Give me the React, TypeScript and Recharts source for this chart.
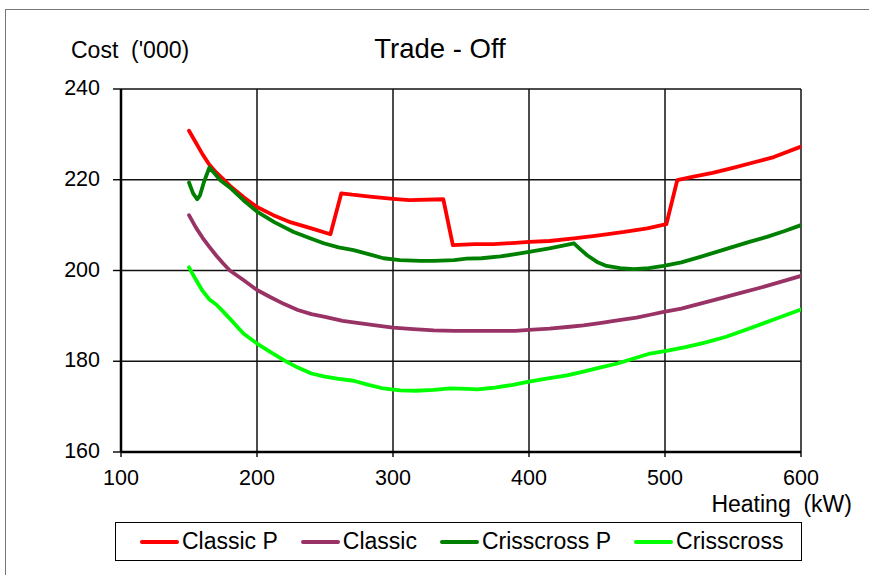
import { LineChart, Line, XAxis, YAxis, CartesianGrid } from "recharts";

// heating (kW) and cost ('000), one pair of arrays per series
const classicPHeating = [150, 155, 160, 165, 170, 175, 180, 190, 200, 212, 225, 240, 254, 262, 270, 283, 300, 312, 337, 344, 360, 374, 390, 400, 415, 433, 450, 470, 487, 501, 509, 521, 535, 550, 565, 580, 600];
const classicPCost = [230.8, 228.2, 225.6, 223.3, 221.6, 220.2, 218.7, 216.2, 214.0, 212.2, 210.6, 209.3, 208.0, 217.0, 216.7, 216.3, 215.8, 215.5, 215.7, 205.6, 205.8, 205.8, 206.1, 206.3, 206.5, 207.1, 207.7, 208.5, 209.3, 210.2, 219.9, 220.7, 221.5, 222.6, 223.8, 225.0, 227.3];

const classicHeating = [150, 155, 160, 165, 170, 175, 180, 190, 200, 210, 220, 230, 240, 250, 263, 275, 290, 300, 315, 330, 345, 360, 375, 390, 400, 415, 430, 440, 452, 465, 479, 490, 499, 512, 526, 540, 555, 570, 585, 600];
const classicCost = [212.2, 209.5, 207.2, 205.2, 203.3, 201.6, 200.0, 197.9, 195.7, 194.1, 192.6, 191.3, 190.4, 189.8, 188.9, 188.4, 187.8, 187.4, 187.1, 186.8, 186.7, 186.7, 186.7, 186.7, 186.9, 187.2, 187.6, 187.9, 188.4, 189.0, 189.6, 190.3, 190.9, 191.6, 192.7, 193.8, 195.0, 196.2, 197.5, 198.8];

const crissPHeating = [150, 153, 156, 158, 161, 165, 169, 173, 180, 190, 200, 213, 227, 240, 249, 260, 271, 282, 293, 305, 320, 330, 345, 354, 365, 379, 390, 400, 415, 425, 433, 438, 443, 450, 457, 467, 477, 488, 499, 512, 526, 538, 550, 562, 575, 588, 600];
const crissPCost = [219.4, 217.0, 215.7, 216.5, 219.5, 222.7, 221.3, 219.9, 218.3, 215.5, 213.0, 210.6, 208.5, 207.0, 206.0, 205.1, 204.5, 203.6, 202.7, 202.3, 202.1, 202.1, 202.3, 202.6, 202.7, 203.1, 203.6, 204.1, 204.9, 205.5, 206.0, 204.6, 203.3, 201.9, 201.0, 200.5, 200.3, 200.5, 201.0, 201.8, 203.0, 204.1, 205.2, 206.3, 207.4, 208.7, 210.0];

const crissHeating = [150, 155, 160, 165, 170, 175, 180, 190, 200, 210, 220, 230, 240, 250, 260, 271, 282, 293, 305, 317, 330, 342, 355, 362, 375, 388, 400, 414, 428, 440, 452, 465, 477, 489, 501, 515, 528, 545, 562, 580, 600];
const crissCost = [200.7, 198.0, 195.5, 193.6, 192.5, 191.0, 189.4, 186.1, 183.9, 182.0, 180.2, 178.6, 177.3, 176.6, 176.1, 175.7, 174.8, 174.0, 173.6, 173.5, 173.7, 174.0, 173.9, 173.8, 174.2, 174.8, 175.5, 176.2, 176.9, 177.7, 178.6, 179.5, 180.6, 181.7, 182.3, 183.1, 184.0, 185.4, 187.2, 189.2, 191.4];

const xTicks = [100, 200, 300, 400, 500, 600];
const yTicks = [160, 180, 200, 220, 240];

const toPoints = (xs: number[], ys: number[]) => xs.map((x, i) => ({ x, y: ys[i] }));

const series = [
  { name: "Classic P", color: "#ff0000", data: toPoints(classicPHeating, classicPCost) },
  { name: "Classic", color: "#993366", data: toPoints(classicHeating, classicCost) },
  { name: "Crisscross P", color: "#008000", data: toPoints(crissPHeating, crissPCost) },
  { name: "Crisscross", color: "#00ff00", data: toPoints(crissHeating, crissCost) },
];

const font = "'Liberation Sans', Arial, sans-serif";

export default function App() {
  return (
    <div style={{ position: "relative", width: 869, height: 575, background: "#fff", fontFamily: font, overflow: "hidden" }}>
      <style>{"body{margin:0}"}</style>
      <div
        style={{
          position: "absolute",
          left: 5,
          top: 9,
          width: 880,
          height: 600,
          borderTop: "1.5px solid #777",
          borderLeft: "1.5px solid #777",
        }}
      />
      <LineChart width={869} height={575} margin={{ top: 89, right: 68, bottom: 83, left: 61 }}>
        <CartesianGrid stroke="#111" strokeWidth={1.5} horizontal vertical />
        <XAxis
          type="number"
          dataKey="x"
          domain={[100, 600]}
          ticks={xTicks}
          allowDataOverflow
          height={40}
          tickSize={5}
          tickMargin={13}
          axisLine={{ stroke: "#000", strokeWidth: 2.5 }}
          tickLine={{ stroke: "#000", strokeWidth: 1.4 }}
          tick={{ fill: "#000", fontSize: 21.5, fontFamily: font }}
        />
        <YAxis
          type="number"
          dataKey="y"
          domain={[160, 240]}
          ticks={yTicks}
          allowDataOverflow
          width={60}
          tickSize={8}
          tickMargin={13}
          axisLine={{ stroke: "#000", strokeWidth: 2.5 }}
          tickLine={{ stroke: "#000", strokeWidth: 1.4 }}
          tick={{ fill: "#000", fontSize: 21.5, fontFamily: font, dy: -1.5 }}
        />
        {series.map((s) => (
          <Line
            key={s.name}
            data={s.data}
            dataKey="y"
            name={s.name}
            type="linear"
            stroke={s.color}
            strokeWidth={3.8}
            strokeLinejoin="round"
            strokeLinecap="round"
            dot={false}
            activeDot={false}
            isAnimationActive={false}
          />
        ))}
      </LineChart>
      <svg width={869} height={575} style={{ position: "absolute", left: 0, top: 0, pointerEvents: "none" }}>
        <text x={71} y={58} fontSize={23} fontFamily={font} fill="#000">Cost&#160;&#160;('000)</text>
        <text x={440} y={58} fontSize={27.5} fontFamily={font} fill="#000" textAnchor="middle">Trade - Off</text>
        <text x={852} y={512} fontSize={23} fontFamily={font} fill="#000" textAnchor="end">Heating&#160;&#160;(kW)</text>
      </svg>
      <div
        style={{
          position: "absolute",
          left: 115,
          top: 522,
          width: 687,
          height: 39,
          boxSizing: "border-box",
          border: "1.5px solid #000",
          display: "flex",
          alignItems: "center",
          paddingLeft: 24,
          gap: 23,
        }}
      >
        {series.map((s) => (
          <div key={s.name} style={{ display: "flex", alignItems: "center", gap: 3 }}>
            <div style={{ width: 39, height: 4, background: s.color, borderRadius: 2 }} />
            <span style={{ fontSize: 23, lineHeight: "23px", color: "#000" }}>{s.name}</span>
          </div>
        ))}
      </div>
    </div>
  );
}
